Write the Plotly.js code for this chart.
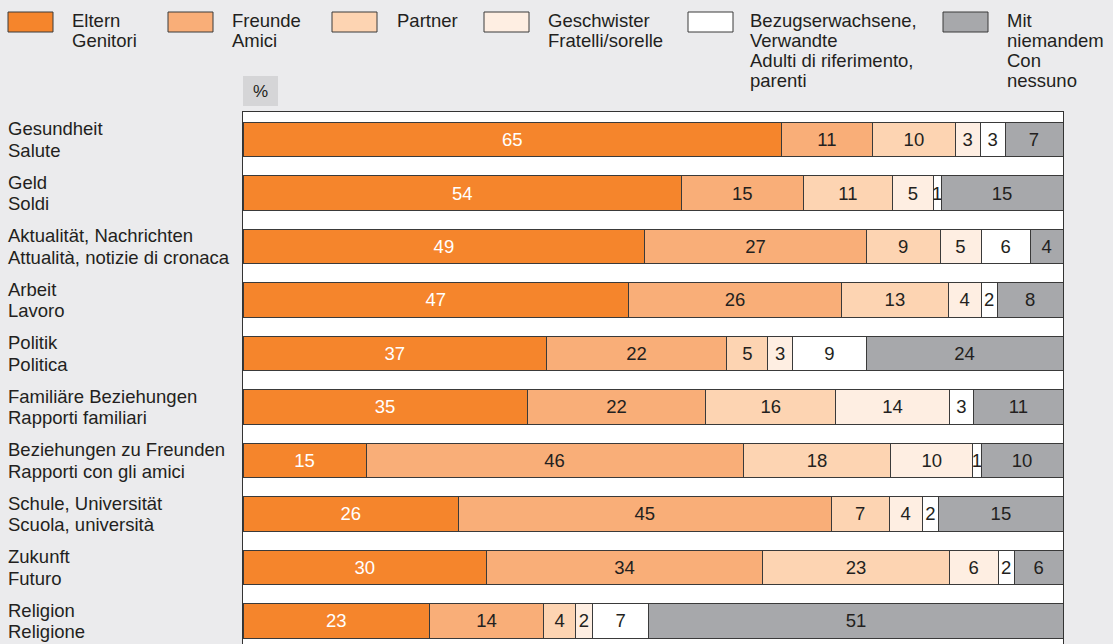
<!DOCTYPE html>
<html>
<head>
<meta charset="utf-8">
<script src="https://cdn.plot.ly/plotly-3.0.1.min.js"></script>
<style>
  html, body { margin: 0; padding: 0; background: #ebebed; }
  #chart { width: 1113px; height: 644px; }
</style>
</head>
<body>
<div id="chart"></div>
<script>
// Topics (German / Italian), top to bottom
const topicsDe = ["Gesundheit", "Geld", "Aktualität, Nachrichten", "Arbeit", "Politik",
  "Familiäre Beziehungen", "Beziehungen zu Freunden", "Schule, Universität", "Zukunft", "Religion"];
const topicsIt = ["Salute", "Soldi", "Attualità, notizie di cronaca", "Lavoro", "Politica",
  "Rapporti familiari", "Rapporti con gli amici", "Scuola, università", "Futuro", "Religione"];

// Share (%) of people each topic is discussed with
const eltern        = [65, 54, 49, 47, 37, 35, 15, 26, 30, 23];
const freunde       = [11, 15, 27, 26, 22, 22, 46, 45, 34, 14];
const partner       = [10, 11,  9, 13,  5, 16, 18,  7, 23,  4];
const geschwister   = [ 3,  5,  5,  4,  3, 14, 10,  4,  6,  2];
const bezugspersonen= [ 3,  1,  6,  2,  9,  3,  1,  2,  2,  7];
const niemand       = [ 7, 15,  4,  8, 24, 11, 10, 15,  6, 51];

// Legend entries, one array element per line
const seriesNames = [
  ["Eltern", "Genitori"],
  ["Freunde", "Amici"],
  ["Partner"],
  ["Geschwister", "Fratelli/sorelle"],
  ["Bezugserwachsene,", "Verwandte", "Adulti di riferimento,", "parenti"],
  ["Mit", "niemandem", "Con", "nessuno"]
];
const seriesValues = [eltern, freunde, partner, geschwister, bezugspersonen, niemand];
const seriesColors = ["#f5852c", "#f9ae78", "#fdd4b2", "#feeee2", "#ffffff", "#a7a8ab"];
const textColors   = ["#ffffff", "#231f20", "#231f20", "#231f20", "#231f20", "#231f20"];

const FONT = "Liberation Sans, Arial, sans-serif";
const FS = 18.5;
const INK = "#231f20";

const cats = topicsDe.map((d, i) => d + " / " + topicsIt[i]);

const traces = seriesValues.map((vals, k) => ({
  type: "bar",
  orientation: "h",
  name: seriesNames[k].join(" "),
  y: cats,
  x: vals,
  text: vals.map(String),
  textposition: "inside",
  insidetextanchor: "middle",
  textangle: 0,
  textfont: { family: FONT, size: FS, color: textColors[k] },
  marker: { color: seriesColors[k], line: { color: "#3a3a3a", width: 1 } },
  hoverinfo: "skip",
  showlegend: false
}));

// Plot area geometry (pixels) used to place the legend and side labels
const W = 1113, H = 644;
const L = 243, R = 50, T = 112, B = 0;
const pw = W - L - R, ph = H - T - B;
const px = x => (x - L) / pw;
const py = y => (H - B - y) / ph;

const annotations = [];
const shapes = [];

function label(xr, yr, x, y, text, yshift) {
  annotations.push({
    xref: xr, yref: yr, x: x, y: y, xanchor: "left", yanchor: "middle",
    yshift: yshift || 0, text: text, showarrow: false, align: "left",
    font: { family: FONT, size: FS, color: INK }
  });
}

// Two-line category labels, left aligned
cats.forEach((c, i) => {
  label("paper", "y", px(6), c, topicsDe[i], 10.8);
  label("paper", "y", px(6), c, topicsIt[i], -10.8);
});

// Legend row across the top
const legendBoxX = [8, 168, 332, 484, 688, 943];
const legendTextX = [70, 230, 395, 546, 748, 1005];
seriesNames.forEach((lines, k) => {
  shapes.push({
    type: "rect", xref: "paper", yref: "paper",
    x0: px(legendBoxX[k]), x1: px(legendBoxX[k] + 45),
    y0: py(32), y1: py(12),
    fillcolor: seriesColors[k], line: { color: "#3a3a3a", width: 1 }
  });
  lines.forEach((t, j) => label("paper", "paper", px(legendTextX[k]), py(20 + 20.3 * j), t));
});

// Unit tag above the plot
shapes.push({
  type: "rect", xref: "paper", yref: "paper",
  x0: px(243), x1: px(278), y0: py(106), y1: py(76),
  fillcolor: "#d5d5d7", line: { width: 0 }
});
annotations.push({
  xref: "paper", yref: "paper", x: px(260.5), y: py(91),
  xanchor: "center", yanchor: "middle", text: "%", showarrow: false,
  font: { family: FONT, size: 17, color: INK }
});

const layout = {
  width: W, height: H,
  margin: { l: L, r: R, t: T, b: B, pad: 0 },
  paper_bgcolor: "#ebebed",
  plot_bgcolor: "#ffffff",
  barmode: "stack",
  barnorm: "percent",
  bargap: 0.35,
  uniformtext: { minsize: FS, mode: "show" },
  xaxis: {
    range: [0, 100], showticklabels: false, showgrid: false, zeroline: false,
    ticks: "", showline: true, mirror: true, linecolor: "#333333", linewidth: 1,
    fixedrange: true
  },
  yaxis: {
    type: "category", range: [9.43, -0.514], showticklabels: false, showgrid: false,
    zeroline: false, ticks: "", showline: true, mirror: true, linecolor: "#333333",
    linewidth: 1, fixedrange: true
  },
  shapes: shapes,
  annotations: annotations,
  font: { family: FONT, size: FS, color: INK }
};

Plotly.newPlot("chart", traces, layout, { displayModeBar: false, staticPlot: true });
</script>
</body>
</html>
